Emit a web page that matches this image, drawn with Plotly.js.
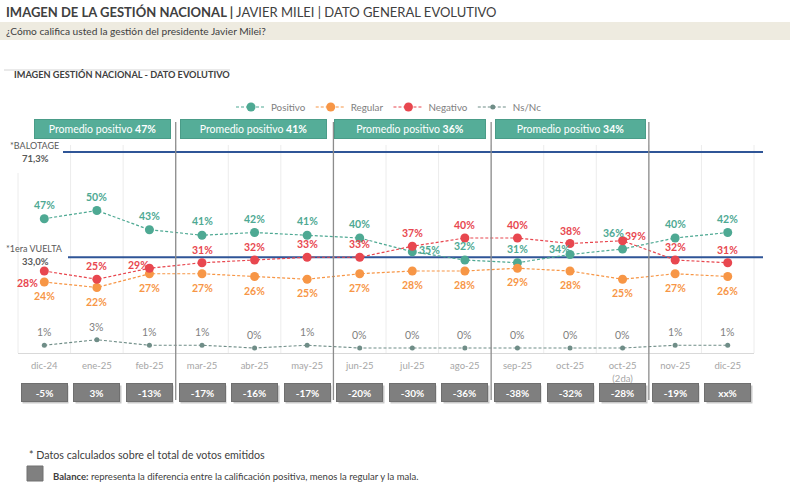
<!DOCTYPE html>
<html>
<head>
<meta charset="utf-8">
<script src="https://cdn.plot.ly/plotly-3.0.1.min.js"></script>
<style>
  html, body { margin: 0; padding: 0; background: #ffffff; }
  #chart { width: 790px; height: 497px; }
</style>
</head>
<body>
<div id="chart"></div>
<script>
// Survey periods and their axis labels
const months = ['dic-24','ene-25','feb-25','mar-25','abr-25','may-25','jun-25','jul-25','ago-25','sep-25','oct-25','oct-25 (2da)','nov-25','dic-25'];
const tickLabels = ['dic-24','ene-25','feb-25','mar-25','abr-25','may-25','jun-25','jul-25','ago-25','sep-25','oct-25','oct-25<br>(2da)','nov-25','dic-25'];

// Rating series (%)
const positivo = [47, 50, 43, 41, 42, 41, 40, 35, 32, 31, 34, 36, 40, 42];
const regular  = [24, 22, 27, 27, 26, 25, 27, 28, 28, 29, 28, 25, 27, 26];
const negativo = [28, 25, 29, 31, 32, 33, 33, 37, 40, 40, 38, 39, 32, 31];
const nsnc     = [1, 3, 1, 1, 0, 1, 0, 0, 0, 0, 0, 0, 1, 1];

// Balance row (positive minus regular and negative)
const balance = ['-5%','3%','-13%','-17%','-16%','-17%','-20%','-30%','-36%','-38%','-32%','-28%','-19%','xx%'];

// Average positive rating per period block
const promedios = [47, 41, 36, 34];
const promedioCenters = ['ene-25', 'abr-25', 'jul-25', 'oct-25'];

// Electoral reference results
const refNames  = ['*BALOTAGE', '*1era VUELTA'];
const refValues = [71.3, 33.0];
const refLabels = ['71,3%', '33,0%'];

// ---- layout geometry ----
const FONT = 'Lato, "Open Sans", sans-serif';
const M = {l: 18, r: 36, t: 140, b: 144};
const PW = 790 - M.l - M.r, PH = 497 - M.t - M.b;
const px = p => (p - M.l) / PW;          // pixel x -> paper x
const py = p => (497 - M.b - p) / PH;    // pixel y -> paper y
const nCat = months.length;
const catX = k => k / nCat;              // paper x of category boundary k

const C = {
  pos: '#4ea993', reg: '#f79646', neg: '#e8474f', ns: '#6f8d87',
  box: '#55ad98', bal: '#7f7f7f', ref: '#2f5597', text: '#404040'
};

const line = (color, w) => ({color: color, width: w, dash: '3px,2px'});

const traces = [
  {name: 'Positivo', x: months, y: positivo, mode: 'lines+markers', line: line(C.pos, 1.2), marker: {color: C.pos, size: 9}},
  {name: 'Regular',  x: months, y: regular,  mode: 'lines+markers', line: line(C.reg, 1.2), marker: {color: C.reg, size: 9}},
  {name: 'Negativo', x: months, y: negativo, mode: 'lines+markers', line: line(C.neg, 1.2), marker: {color: C.neg, size: 9}},
  {name: 'Ns/Nc',    x: months, y: nsnc,     mode: 'lines+markers', line: line(C.ns, 1.1),  marker: {color: C.ns, size: 5}}
].map(t => Object.assign(t, {hoverinfo: 'x+y+name', cliponaxis: false}));

const shapes = [];
const annotations = [];

// header band
shapes.push({type: 'rect', xref: 'paper', yref: 'paper', x0: px(0), x1: px(790), y0: py(40), y1: py(22),
  fillcolor: '#eeebe0', line: {width: 0}, layer: 'below'});
shapes.push({type: 'line', xref: 'paper', yref: 'paper', x0: px(4), x1: px(230), y0: py(70), y1: py(70),
  line: {color: '#d4d4d4', width: 1}});

annotations.push({xref: 'paper', yref: 'paper', x: px(4), y: py(12), xanchor: 'left', yanchor: 'middle', showarrow: false,
  text: '<b>IMAGEN DE LA GESTIÓN NACIONAL |</b> JAVIER MILEI | DATO GENERAL EVOLUTIVO',
  font: {family: FONT, size: 13, color: C.text}});
annotations.push({xref: 'paper', yref: 'paper', x: px(4), y: py(31), xanchor: 'left', yanchor: 'middle', showarrow: false,
  text: '¿Cómo califica usted la gestión del presidente Javier Milei?',
  font: {family: FONT, size: 10.2, color: C.text}});
annotations.push({xref: 'paper', yref: 'paper', x: px(12), y: py(74), xanchor: 'left', yanchor: 'middle', showarrow: false,
  text: '<b>IMAGEN GESTIÓN NACIONAL - DATO EVOLUTIVO</b>',
  font: {family: FONT, size: 9.2, color: C.text}});

// faint column grid
for (let k = 0; k <= nCat; k++) {
  shapes.push({type: 'line', xref: 'paper', yref: 'paper', x0: catX(k), x1: catX(k), y0: 0, y1: k === 0 ? py(173) : py(145),
    line: {color: '#ececec', width: 1}, layer: 'below'});
}
// block separators
[3, 6, 9, 12].forEach(k => {
  shapes.push({type: 'line', xref: 'paper', yref: 'paper', x0: catX(k), x1: catX(k), y0: py(400), y1: py(122),
    line: {color: '#8c8c8c', width: 1.3}});
});

// electoral reference lines with their labels
const refStart = [63, 68];
refValues.forEach((v, i) => {
  shapes.push({type: 'line', xref: 'paper', yref: 'y', x0: px(refStart[i]), x1: px(763), y0: v, y1: v,
    line: {color: C.ref, width: 2}, layer: 'below'});
  annotations.push({xref: 'paper', yref: 'y', x: px(34), y: v, yshift: i === 0 ? 6 : 9, showarrow: false,
    xanchor: 'center', yanchor: 'middle', text: refNames[i], font: {family: FONT, size: 9, color: '#595959'}});
  annotations.push({xref: 'paper', yref: 'y', x: px(35), y: v, yshift: i === 0 ? -7 : -4, showarrow: false,
    xanchor: 'center', yanchor: 'middle', text: '<b>' + refLabels[i] + '</b>', font: {family: FONT, size: 9.5, color: '#595959'}});
});

// average boxes
const promWidths = [135, 145, 150, 149];
const promShift = [6, -1, -2, 0];
promedios.forEach((v, i) => {
  annotations.push({xref: 'x', yref: 'paper', x: promedioCenters[i], xshift: promShift[i], y: py(129), showarrow: false,
    xanchor: 'center', yanchor: 'middle', width: promWidths[i], height: 18, bgcolor: C.box,
    bordercolor: '#4a9c88', borderwidth: 1, borderpad: 0,
    text: 'Promedio positivo <b>' + v + '%</b>', font: {family: FONT, size: 10.5, color: '#ffffff'}});
});

// value labels on the points
const labelSpec = [
  {data: positivo, color: C.pos, dy: 14, special: {7: [17, 2], 10: [-11, 6], 11: [-9, 16]}},
  {data: regular,  color: C.reg, dy: -14, special: {}},
  {data: negativo, color: C.neg, dy: 13, special: {0: [-17, -12], 2: [-11, 3], 11: [13, 5]}},
  {data: nsnc,     color: '#7f7f7f', dy: 13, special: {}}
];
labelSpec.forEach(s => {
  s.data.forEach((v, i) => {
    const sp = s.special[i] || [0, s.dy];
    annotations.push({xref: 'x', yref: 'y', x: months[i], y: v, xshift: sp[0], yshift: sp[1], showarrow: false,
      xanchor: 'center', yanchor: 'middle', text: s.data === nsnc ? v + '%' : '<b>' + v + '%</b>',
      font: {family: FONT, size: 10.5, color: s.color}});
  });
});

// balance row (shadow + box)
balance.forEach((b, i) => {
  annotations.push({xref: 'x', yref: 'paper', x: months[i], xshift: 1.5, yshift: -2, y: py(392), showarrow: false,
    xanchor: 'center', yanchor: 'middle',
    width: 45, height: 17, bgcolor: '#c9c9c9', borderpad: 0, text: ' ', font: {size: 9}});
  annotations.push({xref: 'x', yref: 'paper', x: months[i], y: py(392), showarrow: false,
    xanchor: 'center', yanchor: 'middle',
    width: 45, height: 17, bgcolor: C.bal, borderpad: 0, bordercolor: '#6f6f6f', borderwidth: 1,
    text: '<b>' + b + '</b>', font: {family: FONT, size: 10, color: '#ffffff'}});
});

// footnotes
annotations.push({xref: 'paper', yref: 'paper', x: px(27), y: py(454), xanchor: 'left', yanchor: 'middle', showarrow: false,
  text: '* Datos calculados sobre el total de votos emitidos', font: {family: FONT, size: 10.7, color: C.text}});
shapes.push({type: 'rect', xref: 'paper', yref: 'paper', x0: px(27), x1: px(43), y0: py(481), y1: py(466),
  fillcolor: '#808080', line: {color: '#707070', width: 1}});
annotations.push({xref: 'paper', yref: 'paper', x: px(51), y: py(476), xanchor: 'left', yanchor: 'middle', showarrow: false,
  text: '<b>Balance:</b> representa la diferencia entre la calificación positiva, menos la regular y la mala.',
  font: {family: FONT, size: 9.5, color: C.text}});

const layout = {
  width: 790, height: 497,
  margin: M,
  paper_bgcolor: '#ffffff', plot_bgcolor: '#ffffff',
  font: {family: FONT, color: C.text},
  showlegend: true,
  legend: {orientation: 'h', x: px(231), xanchor: 'left', y: py(107), yanchor: 'middle',
    font: {family: FONT, size: 9.8, color: '#808080'}, itemwidth: 30, tracegroupgap: 0, bgcolor: 'rgba(0,0,0,0)'},
  xaxis: {type: 'category', categoryarray: months, tickvals: months, ticktext: tickLabels,
    range: [-0.5, nCat - 0.5], showgrid: false, zeroline: false, showline: true, linecolor: '#d9d9d9', linewidth: 1,
    ticks: '', ticklabelstandoff: 4, tickfont: {family: FONT, size: 9.5, color: '#a6a6a6'}, fixedrange: true},
  yaxis: {range: [-1.818, 75.636], showgrid: false, zeroline: false, showticklabels: false, showline: false, fixedrange: true},
  shapes: shapes,
  annotations: annotations
};

Plotly.newPlot('chart', traces, layout, {displayModeBar: false, responsive: false});
</script>
</body>
</html>
